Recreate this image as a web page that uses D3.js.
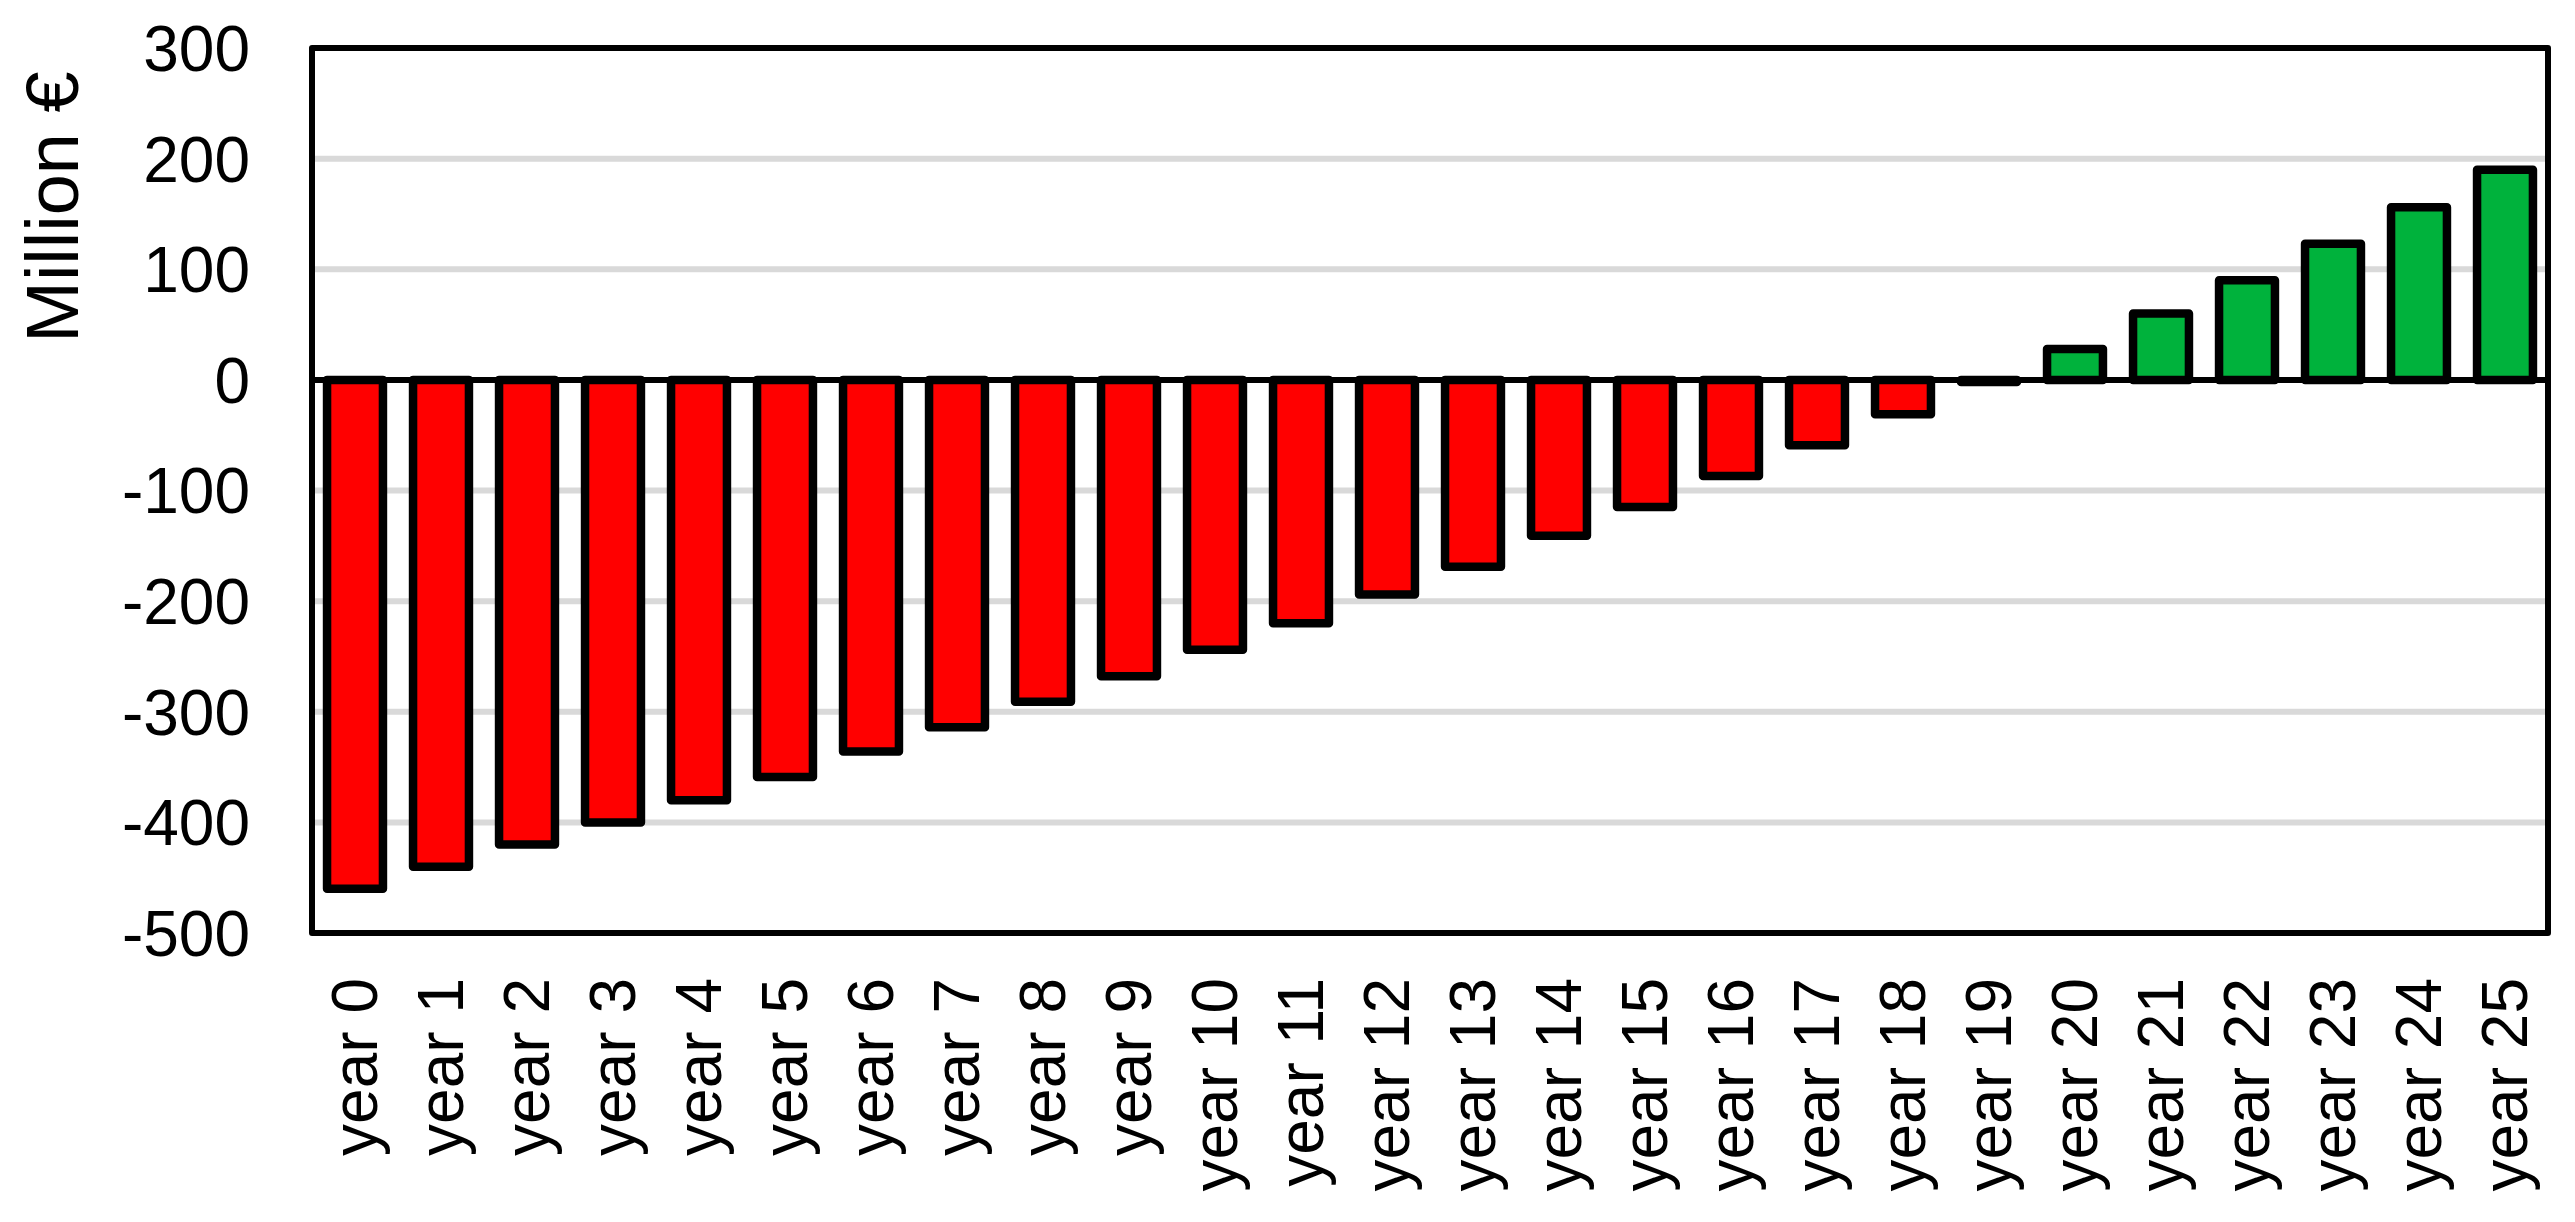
<!DOCTYPE html>
<html>
<head>
<meta charset="utf-8">
<script src="https://cdn.jsdelivr.net/npm/d3@7"></script>
<style>
  html, body { margin: 0; padding: 0; background: #fff; }
  svg { display: block; }
  text { font-family: "Liberation Sans", Arial, sans-serif; fill: #000; }
</style>
</head>
<body>
<svg id="chart" width="2575" height="1222"></svg>
<script>
const categories = ["year 0","year 1","year 2","year 3","year 4","year 5","year 6","year 7","year 8","year 9","year 10","year 11","year 12","year 13","year 14","year 15","year 16","year 17","year 18","year 19","year 20","year 21","year 22","year 23","year 24","year 25"];
const values = [-460,-440,-420,-400,-380,-359,-336,-314,-291,-268,-244,-220,-194,-169,-141,-115,-87,-59,-31,-2,28,60,90,123,156,190];
const yTicks = [300,200,100,0,-100,-200,-300,-400,-500];
const yTitle = "Million €";

const svg = d3.select("#chart");
const L = 312, R = 2548, T = 48, B = 933;

const x = d3.scaleBand().domain(categories).range([L, R]).padding(0);
const y = d3.scaleLinear().domain([-500, 300]).range([B, T]);

// gridlines
svg.append("g").selectAll("line").data(yTicks.filter(d => d !== 0 && d !== 300 && d !== -500))
  .join("line")
  .attr("x1", L).attr("x2", R)
  .attr("y1", d => y(d)).attr("y2", d => y(d))
  .attr("stroke", "#d9d9d9").attr("stroke-width", 6);

// bars
const bw = x.bandwidth() * 0.65;
svg.append("g").selectAll("rect").data(values)
  .join("rect")
  .attr("x", (d, i) => x(categories[i]) + (x.bandwidth() - bw) / 2)
  .attr("width", bw)
  .attr("y", d => y(Math.max(0, d)))
  .attr("height", d => Math.abs(y(d) - y(0)))
  .attr("fill", d => d < 0 ? "#ff0000" : "#00b23c")
  .attr("stroke", "#000").attr("stroke-width", 8.5)
  .attr("stroke-linejoin", "round");

// zero line
svg.append("line")
  .attr("x1", L).attr("x2", R)
  .attr("y1", y(0)).attr("y2", y(0))
  .attr("stroke", "#000").attr("stroke-width", 6);

// frame
svg.append("rect")
  .attr("x", L).attr("y", T).attr("width", R - L).attr("height", B - T)
  .attr("fill", "none").attr("stroke", "#000").attr("stroke-width", 6)
  .attr("stroke-linejoin", "round");

// y axis labels
const yAxis = d3.axisLeft(y).tickValues(yTicks).tickSize(0).tickPadding(0).tickFormat(d3.format("d"));
const gy = svg.append("g").attr("transform", `translate(250,0)`).call(yAxis);
gy.select(".domain").remove();
gy.selectAll("text")
  .attr("font-family", "'Liberation Sans', Arial, sans-serif")
  .attr("font-size", 64).attr("fill", "#000").attr("dy", "0.35em")
  .text(d => d < 0 ? "-" + Math.abs(d) : d);

// x axis labels
const xAxis = d3.axisBottom(x).tickSize(0).tickPadding(0);
const gx = svg.append("g").call(xAxis);
gx.select(".domain").remove();
gx.selectAll(".tick").attr("transform", d => `translate(${x(d) + x.bandwidth() / 2},978)`);
gx.selectAll("text")
  .attr("font-family", "'Liberation Sans', Arial, sans-serif")
  .attr("font-size", 64).attr("fill", "#000")
  .attr("transform", "rotate(-90)")
  .attr("x", 0).attr("y", 0).attr("dy", "0.35em")
  .attr("text-anchor", "end");

// y title
svg.append("text")
  .attr("transform", "translate(78,207) rotate(-90)")
  .attr("text-anchor", "middle")
  .attr("font-size", 74)
  .text(yTitle);
</script>
</body>
</html>
